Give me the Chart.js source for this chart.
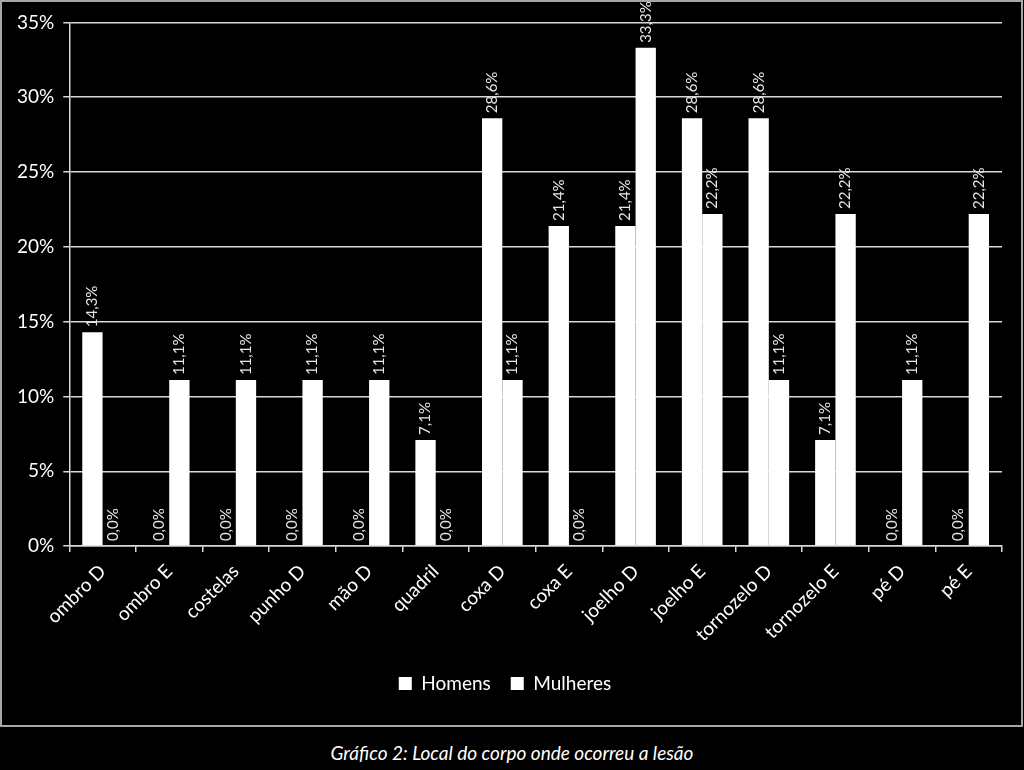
<!DOCTYPE html>
<html>
<head>
<meta charset="utf-8">
<script src="https://cdn.jsdelivr.net/npm/chart.js@4/dist/chart.umd.min.js"></script>
<style>
  body { margin: 0; background: #000; width: 1024px; height: 770px; overflow: hidden; }
  #box { position: absolute; left: 0; top: 0; width: 1019px; height: 723px; border: 2px solid #a6a6a6; }
  #caption { position: absolute; left: 0; top: 741px; width: 1024px; text-align: center;
    color: #fff; font: italic 19px Lato, sans-serif; }
</style>
</head>
<body>
<div id="box"><canvas id="chart" width="1019" height="723"></canvas></div>
<div id="caption">Gráfico 2: Local do corpo onde ocorreu a lesão</div>
<script>
// categorias e valores (%)
const categories = ['ombro D','ombro E','costelas','punho D','mão D','quadril','coxa D','coxa E',
  'joelho D','joelho E','tornozelo D','tornozelo E','pé D','pé E'];
const homens   = [14.3, 0, 0, 0, 0, 7.1, 28.6, 21.4, 21.4, 28.6, 28.6, 7.1, 0, 0];
const mulheres = [0, 11.1, 11.1, 11.1, 11.1, 0, 11.1, 0, 33.3, 22.2, 11.1, 22.2, 11.1, 22.2];
const yTicks = [0, 5, 10, 15, 20, 25, 30, 35];

const FONT = 'Lato, sans-serif';

// rotated value labels above each bar
const valueLabels = {
  id: 'valueLabels',
  afterDatasetsDraw(chart) {
    const ctx = chart.ctx;
    ctx.save();
    ctx.fillStyle = '#e6e6e6';
    ctx.font = '15px ' + FONT;
    ctx.textAlign = 'left';
    ctx.textBaseline = 'middle';
    chart.data.datasets.forEach((ds, i) => {
      chart.getDatasetMeta(i).data.forEach((bar, j) => {
        const txt = ds.data[j].toFixed(1).replace('.', ',') + '%';
        ctx.save();
        ctx.translate(bar.x, bar.y - 5);
        ctx.rotate(-Math.PI / 2);
        ctx.fillText(txt, 0, 0);
        ctx.restore();
      });
    });
    ctx.restore();
  }
};

new Chart(document.getElementById('chart'), {
  type: 'bar',
  data: {
    labels: categories,
    datasets: [
      { label: 'Homens', data: homens, backgroundColor: '#fff', borderWidth: 0 },
      { label: 'Mulheres', data: mulheres, backgroundColor: '#fff', borderWidth: 0 }
    ]
  },
  options: {
    responsive: false,
    animation: false,
    layout: { padding: { left: 6, right: 19, top: 16, bottom: 22 } },
    datasets: { bar: { categoryPercentage: 0.61, barPercentage: 1.0 } },
    plugins: {
      legend: {
        position: 'bottom',
        labels: { color: '#fff', font: { family: FONT, size: 19 }, boxWidth: 13, boxHeight: 13, padding: 20 }
      },
      tooltip: { enabled: false }
    },
    scales: {
      x: {
        ticks: { color: '#fff', font: { family: FONT, size: 19 }, minRotation: 45, maxRotation: 45, padding: 8 },
        grid: { drawOnChartArea: false, color: '#d9d9d9', tickLength: 6, lineWidth: 1.5 },
        border: { color: '#d9d9d9', width: 1.5 }
      },
      y: {
        min: 0, max: 35,
        afterBuildTicks(axis) { axis.ticks = yTicks.map(v => ({ value: v })); },
        ticks: { color: '#fff', font: { family: FONT, size: 19 }, padding: 9, callback: v => v + '%' },
        grid: { color: '#d9d9d9', lineWidth: 1.5, tickLength: 6 },
        border: { color: '#d9d9d9', width: 1.5 }
      }
    }
  },
  plugins: [valueLabels]
});
</script>
</body>
</html>
